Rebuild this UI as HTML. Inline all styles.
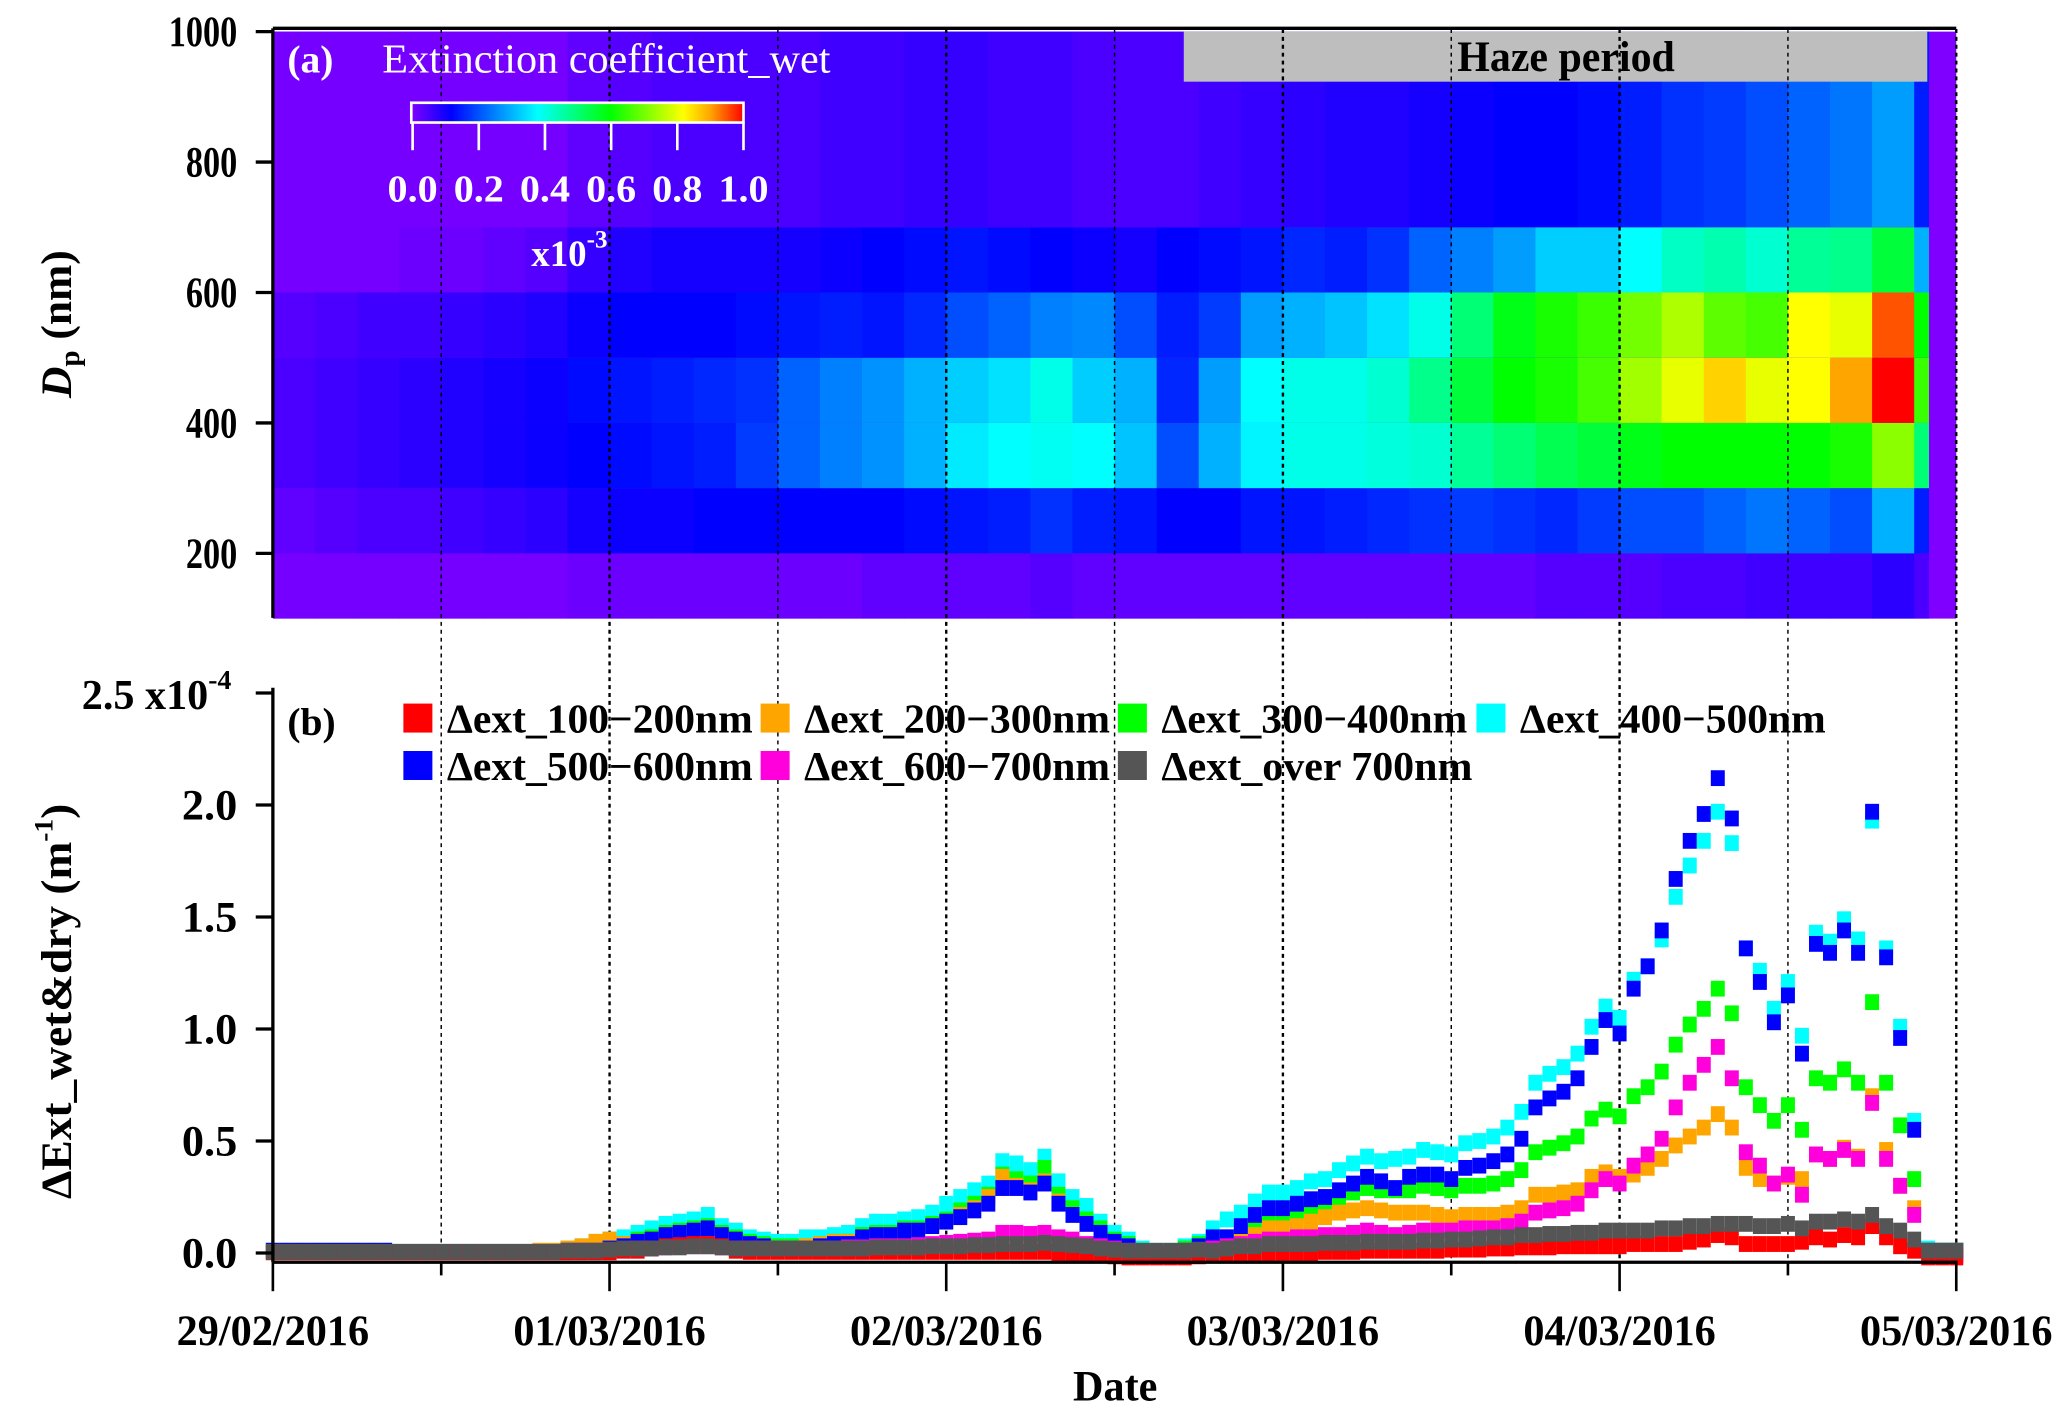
<!DOCTYPE html>
<html><head><meta charset="utf-8">
<style>
html,body{margin:0;padding:0;background:#fff;}
svg{display:block;font-family:"Liberation Serif","DejaVu Serif",serif;}
</style></head>
<body>
<svg id="chart" xmlns="http://www.w3.org/2000/svg" width="2067" height="1419" viewBox="0 0 1568 1077" preserveAspectRatio="none">
<g id="heat"></g>
<rect x="898" y="24" width="564" height="38" fill="#bebebe"/>
<text x="1188" y="54" font-size="33" font-weight="bold" text-anchor="middle" textLength="165" lengthAdjust="spacingAndGlyphs">Haze period</text>
<g id="grid"></g>
<g id="marks"></g>
<g id="axes"></g>
<text x="218" y="55" font-size="30" fill="#fff" font-weight="bold">(a)</text>
<text x="290" y="55" font-size="31" fill="#fff" textLength="340" lengthAdjust="spacingAndGlyphs">Extinction coefficient_wet</text>
<defs><linearGradient id="cb" x1="0" x2="1" y1="0" y2="0">
<stop offset="0" stop-color="#8000ff"/><stop offset="0.12" stop-color="#0000ff"/><stop offset="0.38" stop-color="#00ffff"/><stop offset="0.6" stop-color="#00ff00"/><stop offset="0.82" stop-color="#ffff00"/><stop offset="0.9" stop-color="#ffa500"/><stop offset="1" stop-color="#ff0000"/></linearGradient></defs>
<rect x="312" y="78" width="252" height="15" fill="url(#cb)" stroke="#fff" stroke-width="2"/>
<g id="cbt"></g>
<text x="403" y="202" font-size="28" font-weight="bold" fill="#fff">x10<tspan dy="-14" font-size="19">-3</tspan></text>
<text x="218" y="558" font-size="30" font-weight="bold">(b)</text>
<g id="legend"></g>
<text transform="translate(54,246) rotate(-90)" font-size="33" font-weight="bold" text-anchor="middle"><tspan font-style="italic">D</tspan><tspan font-size="22" dy="6">p</tspan><tspan dy="-6"> (nm)</tspan></text>
<text transform="translate(54,760) rotate(-90)" font-size="33" font-weight="bold" text-anchor="middle" textLength="300" lengthAdjust="spacingAndGlyphs">ΔExt_wet&amp;dry (m<tspan dy="-14" font-size="20">-1</tspan><tspan dy="14">)</tspan></text>
<text x="846" y="1063" font-size="33" font-weight="bold" text-anchor="middle" textLength="64" lengthAdjust="spacingAndGlyphs">Date</text>
</svg>
<script>
// ---------- data ----------
const dayLabels=["29/02/2016","01/03/2016","02/03/2016","03/03/2016","04/03/2016","05/03/2016"];
const dpTicks=[200,400,600,800,1000];
const bTicks=["0.0","0.5","1.0","1.5","2.0"];
const bTickVals=[0,0.5,1,1.5,2];
const cbTicks=["0.0","0.2","0.4","0.6","0.8","1.0"];
const sizeBins=[[100,200],[200,300],[300,400],[400,500],[500,600],[600,700],[700,1000]];
// heatmap: 3-hour columns, values x1e-3
const heat100=[0.01,0.01,0.01,0.01,0.01,0.01,0.01,0.02,0.02,0.02,0.02,0.02,0.02,0.02,0.03,0.03,0.03,0.03,0.04,0.03,0.03,0.03,0.03,0.03,0.03,0.03,0.03,0.03,0.03,0.03,0.04,0.04,0.04,0.05,0.05,0.06,0.06,0.06,0.08,0.05];
const heat200=[0.03,0.04,0.05,0.05,0.06,0.07,0.08,0.1,0.11,0.11,0.12,0.12,0.12,0.12,0.12,0.13,0.14,0.15,0.17,0.15,0.14,0.12,0.12,0.14,0.14,0.15,0.16,0.17,0.18,0.17,0.16,0.18,0.2,0.2,0.22,0.24,0.22,0.2,0.3,0.15];
const heat300=[0.05,0.06,0.07,0.08,0.09,0.1,0.11,0.12,0.13,0.14,0.15,0.18,0.22,0.25,0.27,0.3,0.36,0.38,0.39,0.38,0.32,0.2,0.3,0.37,0.4,0.4,0.41,0.42,0.47,0.5,0.53,0.55,0.58,0.6,0.6,0.6,0.6,0.62,0.72,0.5];
const heat400=[0.05,0.06,0.07,0.08,0.09,0.1,0.11,0.13,0.14,0.15,0.16,0.17,0.22,0.25,0.27,0.3,0.33,0.35,0.4,0.33,0.3,0.16,0.28,0.38,0.4,0.4,0.42,0.48,0.55,0.6,0.62,0.66,0.74,0.8,0.86,0.8,0.82,0.9,1.0,0.65];
const heat500=[0.04,0.05,0.06,0.06,0.07,0.08,0.09,0.11,0.12,0.12,0.12,0.13,0.14,0.15,0.14,0.16,0.2,0.22,0.25,0.26,0.2,0.15,0.18,0.28,0.3,0.32,0.35,0.4,0.5,0.58,0.62,0.65,0.7,0.75,0.68,0.66,0.82,0.8,0.95,0.6];
const heat600=[0.01,0.01,0.01,0.02,0.02,0.03,0.04,0.07,0.09,0.1,0.1,0.1,0.1,0.11,0.12,0.13,0.14,0.13,0.12,0.11,0.1,0.12,0.13,0.14,0.16,0.15,0.17,0.22,0.25,0.28,0.33,0.33,0.38,0.43,0.45,0.42,0.47,0.48,0.55,0.3];
const heat700=[0.01,0.01,0.01,0.01,0.01,0.01,0.01,0.03,0.04,0.05,0.05,0.05,0.05,0.06,0.06,0.07,0.07,0.06,0.06,0.05,0.05,0.05,0.06,0.07,0.08,0.09,0.09,0.1,0.11,0.12,0.12,0.13,0.15,0.17,0.18,0.2,0.22,0.24,0.28,0.15];
// panel b: hourly values, x1e-4
const ext400=[0.01,0.01,0.01,0.01,0.01,0.01,0.01,0.01,0.01,0.005,0.005,0.005,0.005,0.005,0.005,0.005,0.005,0.005,0.005,0.01,0.01,0.02,0.03,0.05,0.06,0.07,0.09,0.11,0.13,0.14,0.15,0.17,0.12,0.10,0.07,0.06,0.05,0.05,0.07,0.07,0.08,0.09,0.12,0.14,0.14,0.15,0.16,0.18,0.22,0.25,0.28,0.31,0.41,0.40,0.37,0.43,0.32,0.25,0.21,0.14,0.09,0.06,0.02,0.01,0.01,0.03,0.05,0.11,0.15,0.18,0.23,0.27,0.27,0.29,0.32,0.33,0.37,0.40,0.43,0.41,0.42,0.43,0.46,0.45,0.44,0.49,0.50,0.52,0.56,0.63,0.76,0.80,0.83,0.89,1.01,1.10,1.05,1.22,1.28,1.40,1.59,1.73,1.84,1.97,1.83,1.36,1.26,1.09,1.21,0.97,1.43,1.39,1.49,1.40,1.93,1.36,1.01,0.59,0.02,0.01,0.01];
const ext500=[0.01,0.01,0.01,0.01,0.01,0.01,0.01,0.01,0.01,0.005,0.005,0.005,0.005,0.005,0.005,0.005,0.005,0.005,0.005,0.005,0.005,0.01,0.01,0.01,0.02,0.03,0.05,0.06,0.08,0.09,0.10,0.11,0.08,0.06,0.04,0.03,0.02,0.02,0.02,0.03,0.04,0.04,0.07,0.08,0.08,0.10,0.10,0.12,0.14,0.16,0.19,0.22,0.29,0.29,0.27,0.31,0.22,0.17,0.13,0.09,0.05,0.03,0.0,0.0,0.0,0.01,0.03,0.07,0.07,0.12,0.17,0.20,0.20,0.22,0.24,0.25,0.28,0.31,0.34,0.32,0.29,0.34,0.35,0.35,0.33,0.38,0.39,0.41,0.44,0.51,0.65,0.69,0.72,0.78,0.92,1.04,0.98,1.18,1.28,1.44,1.67,1.84,1.96,2.12,1.94,1.36,1.21,1.03,1.15,0.89,1.38,1.34,1.44,1.34,1.97,1.32,0.96,0.55,0.01,0.01,0.01];
const ext300=[0.01,0.01,0.01,0.01,0.01,0.01,0.01,0.01,0.01,0.005,0.005,0.005,0.005,0.005,0.005,0.005,0.005,0.005,0.005,0.005,0.005,0.01,0.01,0.02,0.03,0.04,0.06,0.07,0.09,0.10,0.11,0.12,0.09,0.07,0.05,0.04,0.03,0.03,0.03,0.04,0.05,0.05,0.08,0.09,0.09,0.11,0.11,0.13,0.15,0.19,0.22,0.26,0.35,0.33,0.31,0.38,0.26,0.20,0.15,0.11,0.06,0.04,0.01,0.0,0.0,0.02,0.04,0.06,0.07,0.10,0.12,0.16,0.16,0.18,0.20,0.21,0.24,0.27,0.29,0.28,0.28,0.28,0.30,0.29,0.28,0.30,0.30,0.31,0.33,0.37,0.45,0.47,0.49,0.52,0.60,0.64,0.61,0.70,0.74,0.81,0.93,1.02,1.09,1.18,1.07,0.74,0.66,0.59,0.66,0.55,0.78,0.76,0.82,0.76,1.12,0.76,0.57,0.33,0.01,0.01,0.01];
const ext200=[0.01,0.01,0.01,0.01,0.01,0.01,0.01,0.01,0.01,0.005,0.005,0.005,0.005,0.005,0.005,0.005,0.005,0.005,0.005,0.01,0.01,0.02,0.03,0.05,0.06,0.04,0.05,0.06,0.08,0.09,0.10,0.11,0.08,0.06,0.04,0.03,0.02,0.02,0.03,0.04,0.05,0.05,0.07,0.08,0.08,0.10,0.10,0.12,0.14,0.17,0.20,0.25,0.34,0.30,0.28,0.32,0.23,0.17,0.13,0.08,0.04,0.02,0.0,0.0,0.0,0.01,0.02,0.03,0.04,0.05,0.08,0.11,0.11,0.12,0.14,0.16,0.18,0.19,0.20,0.19,0.18,0.18,0.18,0.17,0.16,0.17,0.17,0.17,0.18,0.20,0.26,0.26,0.27,0.28,0.34,0.36,0.34,0.35,0.38,0.42,0.48,0.52,0.56,0.62,0.56,0.38,0.33,0.31,0.34,0.33,0.44,0.42,0.47,0.43,0.70,0.46,0.30,0.20,0.01,0.0,0.0];
const ext600=[0.005,0.005,0.005,0.005,0.005,0.005,0.005,0.005,0.005,0.005,0.005,0.005,0.005,0.005,0.005,0.005,0.005,0.005,0.005,0.005,0.005,0.01,0.01,0.01,0.01,0.015,0.02,0.02,0.025,0.03,0.03,0.03,0.025,0.02,0.02,0.02,0.02,0.02,0.02,0.02,0.02,0.025,0.025,0.03,0.03,0.03,0.035,0.04,0.045,0.05,0.055,0.06,0.09,0.09,0.085,0.09,0.07,0.06,0.04,0.03,0.02,0.01,0.005,0.0,0.0,0.005,0.01,0.02,0.03,0.04,0.05,0.06,0.06,0.07,0.07,0.08,0.08,0.09,0.10,0.09,0.08,0.09,0.10,0.10,0.10,0.11,0.11,0.11,0.12,0.14,0.18,0.19,0.20,0.22,0.28,0.33,0.31,0.39,0.44,0.51,0.65,0.76,0.84,0.92,0.78,0.45,0.39,0.31,0.35,0.26,0.44,0.42,0.46,0.42,0.67,0.42,0.30,0.17,-0.01,-0.01,-0.01];
const ext700=[0.005,0.005,0.005,0.005,0.005,0.005,0.005,0.005,0.005,0.005,0.005,0.005,0.005,0.005,0.005,0.005,0.005,0.005,0.005,0.005,0.005,0.01,0.01,0.01,0.015,0.02,0.02,0.02,0.025,0.025,0.03,0.03,0.025,0.02,0.02,0.02,0.02,0.02,0.02,0.02,0.02,0.02,0.02,0.025,0.025,0.025,0.025,0.03,0.03,0.03,0.035,0.035,0.04,0.04,0.04,0.045,0.04,0.035,0.03,0.02,0.015,0.01,0.01,0.01,0.01,0.01,0.015,0.01,0.02,0.03,0.03,0.04,0.04,0.04,0.04,0.045,0.045,0.045,0.05,0.05,0.05,0.05,0.055,0.055,0.06,0.06,0.065,0.07,0.07,0.08,0.08,0.085,0.085,0.09,0.09,0.10,0.10,0.10,0.10,0.11,0.11,0.12,0.12,0.13,0.13,0.13,0.12,0.12,0.13,0.11,0.14,0.14,0.15,0.14,0.17,0.12,0.10,0.06,0.01,0.01,0.01];
const ext100=[0.003,0.003,0.003,0.003,0.003,0.003,0.003,0.003,0.003,0.003,0.003,0.003,0.003,0.003,0.003,0.003,0.003,0.003,0.003,0.003,0.003,0.003,0.003,0.003,0.003,0.01,0.01,0.02,0.03,0.035,0.04,0.04,0.03,0.01,0.005,0.005,0.005,0.005,0.005,0.005,0.005,0.005,0.005,0.005,0.005,0.005,0.005,0.005,0.005,0.005,0.005,0.005,0.005,0.005,0.005,0.005,0.0,-0.005,-0.01,-0.01,-0.015,-0.02,-0.02,-0.02,-0.02,-0.02,-0.015,-0.01,-0.01,-0.01,-0.005,-0.005,0.0,0.0,0.0,0.005,0.005,0.005,0.01,0.01,0.01,0.01,0.01,0.01,0.015,0.015,0.015,0.02,0.02,0.025,0.025,0.025,0.03,0.03,0.03,0.03,0.03,0.04,0.04,0.04,0.04,0.05,0.06,0.08,0.07,0.04,0.04,0.04,0.04,0.05,0.07,0.06,0.08,0.07,0.12,0.07,0.03,0.01,-0.02,-0.02,-0.02];
const seriesNames=["Δext_100−200nm","Δext_200−300nm","Δext_300−400nm","Δext_400−500nm","Δext_500−600nm","Δext_600−700nm","Δext_over 700nm"];
const seriesColors=["#ff0000","#ffa500","#00ff00","#00ffff","#0000ff","#ff00dd","#555555"];

// ---------- scales ----------
const NS="http://www.w3.org/2000/svg";
const X0=207,X1=1484,HOUR=(X1-X0)/120;
const xT=h=>X0+h*HOUR;
const yA=nm=>24+(1000-nm)*0.4950;
const yB=v=>951-v*170;
function mk(tag,attrs,parent){const e=document.createElementNS(NS,tag);for(const k in attrs)e.setAttribute(k,attrs[k]);parent.appendChild(e);return e;}
function cmap(v){
  const st=[[0,[128,0,255]],[0.12,[0,0,255]],[0.38,[0,255,255]],[0.6,[0,255,0]],[0.82,[255,255,0]],[0.9,[255,165,0]],[1,[255,0,0]]];
  v=Math.max(0,Math.min(1,v));
  for(let i=1;i<st.length;i++){if(v<=st[i][0]){const t=(v-st[i-1][0])/(st[i][0]-st[i-1][0]);const a=st[i-1][1],b=st[i][1];return `rgb(${a.map((c,j)=>Math.round(c+(b[j]-c)*t)).join(',')})`;}}
  return "rgb(255,0,0)";
}
// ---------- heatmap ----------
const heat=document.getElementById('heat');
const bg=mk('rect',{x:X0,y:yA(1000),width:X1-X0,height:yA(100)-yA(1000),fill:'#8000ff'},heat);


const heatRows=[heat100,heat200,heat300,heat400,heat500,heat600,heat700];
const lastH=118;
heatRows.forEach((row,r)=>{
  const [lo,hi]=sizeBins[r];
  row.forEach((v,k)=>{
    const h0=k*3,h1=Math.min(lastH,k*3+3);
    if(h0>=lastH)return;
    const c=mk('rect',{x:xT(h0),y:yA(hi),width:xT(h1)-xT(h0)+0.6,height:yA(lo)-yA(hi),fill:cmap(v)},heat);
    
    
  });
});
// ---------- grid ----------
const grid=document.getElementById('grid');
for(let k=1;k<=10;k++){
  const x=xT(k*12);
  const l=mk('line',{x1:x,x2:x,y1:22,y2:958,stroke:'#000','stroke-width':k%2==0?1.8:1.1,'stroke-dasharray':'3,3'},grid);
  
  
}
// ---------- markers ----------
const marks=document.getElementById('marks');
const drawOrder=[3,2,1,4,5,0,6];
const seriesData=[ext100,ext200,ext300,ext400,ext500,ext600,ext700];
drawOrder.forEach(s=>{
  const g=mk('g',{},marks);
  
  
  seriesData[s].forEach((v,i)=>{
    const r=mk('rect',{x:xT(i)-5.3,y:yB(v)-6,width:10.6,height:12,fill:seriesColors[s]},g);
    
    
  });
});
// ---------- axes ----------
const ax=document.getElementById('axes');
mk('line',{x1:X0,x2:X1,y1:21.5,y2:21.5,stroke:'#000','stroke-width':2.5},ax);
mk('line',{x1:X0,x2:X0,y1:21.5,y2:469,stroke:'#000','stroke-width':2.5},ax);
dpTicks.forEach(t=>{
  mk('line',{x1:194,x2:X0,y1:yA(t),y2:yA(t),stroke:'#000','stroke-width':2.5},ax);
  const tx=mk('text',{x:180,y:yA(t)+11,'font-size':33,'font-weight':'bold','text-anchor':'end',textLength:String(t).length*13,lengthAdjust:'spacingAndGlyphs'},ax);
  tx.textContent=t;
  
  
});
mk('line',{x1:X0,x2:X0,y1:522,y2:958,stroke:'#000','stroke-width':2.5},ax);
mk('line',{x1:194,x2:X0,y1:yB(2.5),y2:yB(2.5),stroke:'#000','stroke-width':2.5},ax);
const t25=mk('text',{x:62,y:yB(2.5)+12,'font-size':32,'font-weight':'bold'},ax);
t25.innerHTML='<tspan textLength="96" lengthAdjust="spacingAndGlyphs">2.5 x10</tspan><tspan dy="-15" font-size="21">-4</tspan>';


bTickVals.forEach((v,i)=>{
  mk('line',{x1:194,x2:X0,y1:yB(v),y2:yB(v),stroke:'#000','stroke-width':2.5},ax);
  const tx=mk('text',{x:180,y:yB(v)+11,'font-size':33,'font-weight':'bold','text-anchor':'end',textLength:42,lengthAdjust:'spacingAndGlyphs'},ax);
  tx.textContent=bTicks[i];
  
  
});
mk('line',{x1:X0,x2:X1+1,y1:958,y2:958,stroke:'#000','stroke-width':2.5},ax);
for(let k=0;k<=10;k++){
  const x=xT(k*12);
  mk('line',{x1:x,x2:x,y1:958,y2:k%2==0?980:968,stroke:'#000','stroke-width':2},ax);
}
dayLabels.forEach((d,k)=>{
  const tx=mk('text',{x:xT(k*24),y:1021,'font-size':33,'font-weight':'bold','text-anchor':'middle',textLength:146,lengthAdjust:'spacingAndGlyphs'},ax);
  tx.textContent=d;
  
  
});
// ---------- colorbar ticks ----------
const cbt=document.getElementById('cbt');
cbTicks.forEach((t,i)=>{
  const x=313+i*50.2;
  mk('line',{x1:x,x2:x,y1:93,y2:114,stroke:'#fff','stroke-width':2},cbt);
  const tx=mk('text',{x:x,y:153,'font-size':29,'font-weight':'bold',fill:'#fff','text-anchor':'middle',textLength:38,lengthAdjust:'spacingAndGlyphs'},cbt);
  tx.textContent=t;
  
  
});
// ---------- legend ----------
const lg=document.getElementById('legend');
const legPos=[[306,545],[577,545],[848,545],[1120,545],[306,581],[577,581],[848,581]];
const legSeries=[0,1,2,3,4,5,6];
legSeries.forEach((s,i)=>{
  const [x,y]=legPos[i];
  const e=mk('g',{},lg);
  
  
  mk('rect',{x:x,y:y-11,width:22,height:22,fill:seriesColors[s]},e);
  const tx=mk('text',{x:x+33,y:y+11,'font-size':31,'font-weight':'bold',textLength:232,lengthAdjust:'spacingAndGlyphs'},e);
  tx.textContent=seriesNames[s];
  if(s===6)tx.setAttribute('textLength',236);
});
</script>
</body></html>
